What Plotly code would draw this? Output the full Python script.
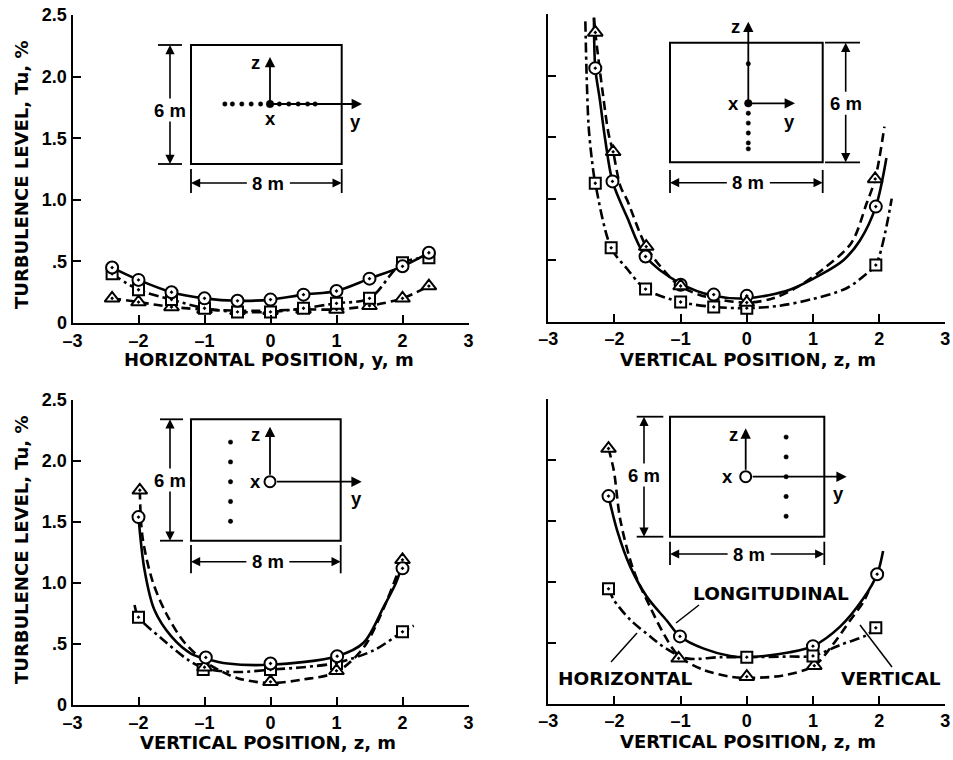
import plotly.graph_objects as go

W, H = 953, 760
FONT = "Liberation Sans, Arial, Helvetica, sans-serif"
TFONT = "DejaVu Sans, Verdana, sans-serif"

# ---------------- data ----------------
# Panel A (top-left): horizontal traverse, position y (m)
a_pos = [-2.4, -2.0, -1.5, -1.0, -0.5, 0.0, 0.5, 1.0, 1.5, 2.0, 2.4]
a_long = [0.45, 0.35, 0.25, 0.20, 0.18, 0.19, 0.23, 0.26, 0.36, 0.46, 0.57]
a_horz = [0.40, 0.27, 0.19, 0.12, 0.09, 0.09, 0.12, 0.16, 0.20, 0.49, 0.53]
a_vert = [0.20, 0.17, 0.13, 0.11, 0.10, 0.10, 0.11, 0.11, 0.14, 0.20, 0.30]

# Panel B (top-right): vertical traverse at centre, position z (m)
b_long_x = [-2.29, -2.03, -1.53, -1.0, -0.5, 0.0, 1.95]
b_long_y = [2.06, 1.14, 0.53, 0.30, 0.22, 0.21, 0.935]
b_horz_x = [-2.29, -2.05, -1.53, -1.0, -0.5, 0.0, 1.95]
b_horz_y = [1.125, 0.60, 0.265, 0.16, 0.12, 0.11, 0.46]
b_vert_x = [-2.29, -2.02, -1.52, -1.0, 0.0, 1.94]
b_vert_y = [2.35, 1.38, 0.61, 0.29, 0.155, 1.16]
# fitted curves (B)
b_long_cx = [-2.31, -2.29, -2.22, -2.14, -2.03, -1.81, -1.53, -1.0, -0.5, 0.0, 0.65, 1.11, 1.46, 1.71, 1.95, 2.11]
b_long_cy = [2.47, 2.06, 1.80, 1.48, 1.14, 0.85, 0.53, 0.31, 0.21, 0.19, 0.26, 0.38, 0.50, 0.66, 0.935, 1.33]
b_vert_cx = [-2.31, -2.29, -2.17, -2.09, -2.02, -1.91, -1.81, -1.52, -1.21, -1.0, -0.6, 0.0, 0.4, 0.76, 1.16, 1.58, 1.81, 1.94, 2.08]
b_vert_cy = [2.47, 2.35, 1.83, 1.53, 1.38, 1.10, 0.99, 0.61, 0.39, 0.285, 0.20, 0.155, 0.19, 0.28, 0.43, 0.64, 0.96, 1.16, 1.585]
b_horz_cx = [-2.44, -2.42, -2.39, -2.34, -2.29, -2.05, -1.81, -1.53, -1.0, -0.5, 0.0, 0.5, 0.96, 1.5, 1.81, 1.95, 2.19]
b_horz_cy = [2.44, 1.99, 1.585, 1.31, 1.125, 0.60, 0.43, 0.265, 0.16, 0.12, 0.11, 0.13, 0.18, 0.27, 0.39, 0.46, 1.0]

# Panel C (bottom-left): vertical traverse at y = -2 m
c_long_x = [-2.0, -0.98, 0.0, 1.01, 2.0]
c_long_y = [1.54, 0.39, 0.34, 0.40, 1.12]
c_vert_x = [-1.98, -1.0, 0.0, 1.0, 2.0]
c_vert_y = [1.76, 0.31, 0.19, 0.28, 1.19]
c_horz_x = [-2.0, -1.02, 0.0, 1.0, 2.0]
c_horz_y = [0.72, 0.29, 0.29, 0.34, 0.60]
c_long_cx = [-2.0, -1.91, -1.76, -1.50, -1.20, -0.98, -0.65, 0.0, 1.01, 1.41, 1.72, 1.90, 2.0]
c_long_cy = [1.54, 1.11, 0.78, 0.56, 0.42, 0.38, 0.34, 0.33, 0.40, 0.51, 0.81, 1.00, 1.15]
c_vert_cx = [-1.98, -1.94, -1.79, -1.58, -1.30, -0.95, -0.5, 0.0, 0.5, 1.0, 1.41, 1.72, 2.0]
c_vert_cy = [1.76, 1.38, 1.02, 0.75, 0.51, 0.34, 0.22, 0.18, 0.21, 0.27, 0.47, 0.80, 1.19]
c_horz_cx = [-2.06, -2.0, -1.66, -1.25, -1.0, -0.5, 0.0, 0.5, 1.0, 1.57, 2.0, 2.17]
c_horz_cy = [0.82, 0.72, 0.55, 0.37, 0.30, 0.27, 0.29, 0.31, 0.345, 0.45, 0.60, 0.65]

# Panel D (bottom-right): vertical traverse at y = +2 m
d_long_x = [-2.09, -1.01, 1.0, 1.97]
d_long_y = [1.70, 0.55, 0.47, 1.06]
d_vert_x = [-2.09, -1.03, 0.0, 1.02]
d_vert_y = [2.09, 0.37, 0.22, 0.31]
d_horz_x = [-2.09, 0.0, 1.0, 1.95]
d_horz_y = [0.94, 0.38, 0.39, 0.62]
d_long_cx = [-2.09, -1.96, -1.76, -1.51, -1.21, -1.01, -0.65, -0.25, 0.0, 0.65, 1.0, 1.41, 1.76, 1.97, 2.06]
d_long_cy = [1.70, 1.42, 1.12, 0.875, 0.68, 0.55, 0.45, 0.39, 0.38, 0.42, 0.47, 0.63, 0.86, 1.06, 1.25]
d_vert_cx = [-2.09, -2.01, -1.91, -1.71, -1.46, -1.26, -1.03, -0.65, -0.25, 0.0, 0.55, 1.02, 1.31, 1.56, 1.76, 1.84]
d_vert_cy = [2.09, 1.91, 1.50, 1.09, 0.79, 0.575, 0.39, 0.275, 0.22, 0.21, 0.23, 0.31, 0.49, 0.68, 0.83, 0.92]
d_horz_cx = [-2.09, -2.01, -1.76, -1.46, -1.26, -0.91, -0.40, 0.0, 0.65, 1.0, 1.41, 1.81, 1.95]
d_horz_cy = [0.94, 0.85, 0.685, 0.55, 0.465, 0.37, 0.38, 0.38, 0.385, 0.39, 0.48, 0.56, 0.62]

x_ticks = [-3, -2, -1, 0, 1, 2, 3]
x_ticktext = ["\u20133", "\u20132", "\u20131", "0", "1", "2", "3"]
y_ticks = [0, 0.5, 1.0, 1.5, 2.0, 2.5]
y_ticktext = ["0", ".5", "1.0", "1.5", "2.0", "2.5"]

# ---------------- helpers ----------------
def px(x):
    return x / W


def py(y):
    return 1 - y / H


fig = go.Figure()

DASH = "9px,5px"
DASHDOT = "10px,4px,3px,4px"


def curve(xs, ys, dash, ax, width=2.6):
    fig.add_trace(go.Scatter(x=xs, y=ys, mode="lines",
                             line=dict(color="black", width=width, dash=dash,
                                       shape="spline", smoothing=0.9),
                             xaxis="x" + ax, yaxis="y" + ax,
                             showlegend=False, hoverinfo="skip"))


def marks(xs, ys, symbol, ax, size=12):
    fig.add_trace(go.Scatter(x=xs, y=ys, mode="markers",
                             marker=dict(symbol=symbol, size=size, color="white",
                                         line=dict(color="black", width=2)),
                             xaxis="x" + ax, yaxis="y" + ax,
                             showlegend=False, hoverinfo="skip"))


def text(x, y, s, size=18, angle=0, family=TFONT):
    fig.add_annotation(x=px(x), y=py(y), xref="paper", yref="paper", text=s,
                       showarrow=False, textangle=angle,
                       font=dict(family=family, size=size, color="black", weight="bold"),
                       xanchor="center", yanchor="middle")


def seg(x0, y0, x1, y1, w=1.8):
    fig.add_shape(type="line", xref="paper", yref="paper",
                  x0=px(x0), y0=py(y0), x1=px(x1), y1=py(y1),
                  line=dict(color="black", width=w))


def arrow(hx, hy, tx, ty, w=1.6):
    fig.add_annotation(x=px(hx), y=py(hy), xref="paper", yref="paper",
                       ax=tx - hx, ay=ty - hy, text="", showarrow=True,
                       arrowhead=2, arrowsize=1.15, arrowwidth=w,
                       arrowcolor="black", standoff=0)


def dot(x, y, r, filled=True, w=2):
    fig.add_shape(type="circle", xref="paper", yref="paper",
                  x0=px(x - r), x1=px(x + r), y0=py(y - r), y1=py(y + r),
                  line=dict(color="black", width=w if not filled else 0.5),
                  fillcolor="black" if filled else "white")


# ---------------- panel curves + markers ----------------
# A
curve(a_pos, a_long, "solid", "")
curve(a_pos, a_horz, DASHDOT, "")
curve(a_pos, a_vert, DASH, "")
marks(a_pos, a_vert, "triangle-up-dot", "", 13)
marks(a_pos, a_horz, "square-dot", "", 11)
marks(a_pos, a_long, "circle-dot", "")
# B
curve(b_long_cx, b_long_cy, "solid", "2")
curve(b_horz_cx, b_horz_cy, DASHDOT, "2")
curve(b_vert_cx, b_vert_cy, DASH, "2")
marks(b_horz_x, b_horz_y, "square-dot", "2", 11)
marks(b_long_x, b_long_y, "circle-dot", "2")
marks(b_vert_x, b_vert_y, "triangle-up-dot", "2", 13)
# C
curve(c_long_cx, c_long_cy, "solid", "3")
curve(c_horz_cx, c_horz_cy, DASHDOT, "3")
curve(c_vert_cx, c_vert_cy, DASH, "3")
marks(c_horz_x, c_horz_y, "square-dot", "3", 11)
marks(c_vert_x, c_vert_y, "triangle-up-dot", "3", 13)
marks(c_long_x, c_long_y, "circle-dot", "3")
# D
curve(d_long_cx, d_long_cy, "solid", "4")
curve(d_horz_cx, d_horz_cy, DASHDOT, "4")
curve(d_vert_cx, d_vert_cy, DASH, "4")
marks(d_vert_x, d_vert_y, "triangle-up-dot", "4", 13)
marks(d_long_x, d_long_y, "circle-dot", "4")
marks(d_horz_x, d_horz_y, "square-dot", "4", 11)

# ---------------- insets ----------------
SY, SZ = 18.8, 19.8  # px per metre inside the inset sketch


def inset(rect, org, hollow, z_tip, y_tip, zlab, ylab, xlab, vdim_x, vext, vtext_y,
          hdim_y, hext, probes):
    x0, y0, x1, y1 = rect
    fig.add_shape(type="rect", xref="paper", yref="paper",
                  x0=px(x0), x1=px(x1), y0=py(y0), y1=py(y1),
                  line=dict(color="black", width=2))
    ox, oy = org
    r = 5.5 if hollow else 0
    arrow(ox, z_tip, ox, oy - r, 1.8)
    arrow(y_tip, oy, ox + r, oy, 1.8)
    text(*zlab, "z", 18.5, family=FONT)
    text(*ylab, "y", 18.5, family=FONT)
    text(*xlab, "x", 18.5, family=FONT)
    for (ym, zm) in probes:
        dot(ox + ym * SY, oy - zm * SZ, 2.2)
    if hollow:
        dot(ox, oy, 5.5, filled=False)
    else:
        dot(ox, oy, 3.8)
    # 6 m dimension
    seg(vext[0], y0, vext[1], y0)
    seg(vext[0], y1, vext[1], y1)
    arrow(vdim_x, y0, vdim_x, vtext_y - 10)
    arrow(vdim_x, y1, vdim_x, vtext_y + 10)
    text(vdim_x, vtext_y, "6 m", 18.5, family=FONT)
    # 8 m dimension
    seg(x0, hext[0], x0, hext[1])
    seg(x1, hext[0], x1, hext[1])
    cx = (x0 + x1) / 2 + 2
    arrow(x0, hdim_y, cx - 20, hdim_y)
    arrow(x1, hdim_y, cx + 20, hdim_y)
    text(cx, hdim_y, "8 m", 18.5, family=FONT)


inset((191, 45, 341.7, 164), (270, 104), False, 57, 362, (255, 62), (355, 122), (270, 119),
      170, (158, 182), 110, 183, (169, 193), [(p, 0) for p in a_pos])
inset((670, 42.7, 822.7, 162.3), (748.3, 103.3), False, 21.7, 795, (735, 26.7), (789.3, 121.7),
      (733.3, 103.3), 845.7, (825, 860), 103.3, 182.7, (170, 193),
      [(0, z) for z in [-2.3, -2.0, -1.5, -1.0, -0.5, 2.0]])
inset((191, 419.3, 340.7, 540.7), (270, 481.7), True, 426.7, 361.7, (255, 435), (356, 498.3),
      (255, 481.7), 170, (160, 183), 480, 561.7, (545, 573.3),
      [(-2.1, z) for z in [-2.0, -1.0, 0.0, 1.0, 2.0]])
inset((670, 416.7, 824.3, 536.7), (745.7, 476.7), True, 428.3, 846.7, (733.3, 435), (838.3, 493.3),
      (727.3, 476.7), 644, (636.7, 663.3), 475, 554, (541.7, 565),
      [(2.15, z) for z in [-2.0, -1.0, 0.0, 1.0, 2.0]])

# ---------------- curve labels in panel D ----------------
text(771, 593, "LONGITUDINAL", 18.5)
seg(699, 605, 676, 623, 1.5)
text(625, 678, "HORIZONTAL", 18.5)
seg(611, 662, 637, 633, 1.5)
text(891, 678, "VERTICAL", 18.5)
seg(892, 667, 860, 625, 1.5)

# ---------------- axis titles ----------------
text(268.5, 359, "HORIZONTAL POSITION, y, m", 18)
text(748, 359, "VERTICAL POSITION, z, m", 18)
text(267.5, 742, "VERTICAL POSITION, z, m", 18)
text(748, 741, "VERTICAL POSITION, z, m", 18)
text(21, 175, "TURBULENCE LEVEL, Tu, %", 18, -90)
text(21, 550, "TURBULENCE LEVEL, Tu, %", 18, -90)

# ---------------- axes ----------------
tickfont = dict(family=FONT, size=18, color="black", weight="bold")


def xax(dom, anchor):
    return dict(domain=dom, range=[-3, 3], anchor=anchor, showgrid=False, zeroline=False,
                showline=True, linecolor="black", linewidth=2, ticks="inside",
                ticklen=8, tickwidth=2, tickcolor="black", tickvals=x_ticks,
                ticktext=x_ticktext, tickfont=tickfont, fixedrange=True,
                automargin=False)


def yax(dom, anchor, labels):
    return dict(domain=dom, range=[0, 2.5], anchor=anchor, showgrid=False, zeroline=False,
                showline=True, linecolor="black", linewidth=2, ticks="inside",
                ticklen=8, tickwidth=2, tickcolor="black", tickvals=y_ticks,
                ticktext=y_ticktext, tickfont=tickfont, showticklabels=labels,
                fixedrange=True, automargin=False)


XL = [72.5 / W, 468.5 / W]
XR = [548.3 / W, 945.3 / W]
YT = [1 - 323 / H, 1 - 15 / H]
YT2 = [1 - 321.7 / H, 1 - 14 / H]
YB = [1 - 705 / H, 1 - 400 / H]
YB2 = [1 - 703.5 / H, 1 - 398.5 / H]

fig.update_layout(
    width=W, height=H, autosize=False,
    margin=dict(l=0, r=0, t=0, b=0, pad=0, autoexpand=False),
    paper_bgcolor="white", plot_bgcolor="white",
    font=dict(family=FONT, color="black"),
    showlegend=False,
    xaxis=xax(XL, "y"), yaxis=yax(YT, "x", True),
    xaxis2=xax(XR, "y2"), yaxis2=yax(YT2, "x2", False),
    xaxis3=xax(XL, "y3"), yaxis3=yax(YB, "x3", True),
    xaxis4=xax(XR, "y4"), yaxis4=yax(YB2, "x4", False),
)

fig.write_html(
    "out.html",
    config={"displayModeBar": False, "staticPlot": True},
    post_script="document.body.style.margin='0';document.body.style.overflow='hidden';",
)
